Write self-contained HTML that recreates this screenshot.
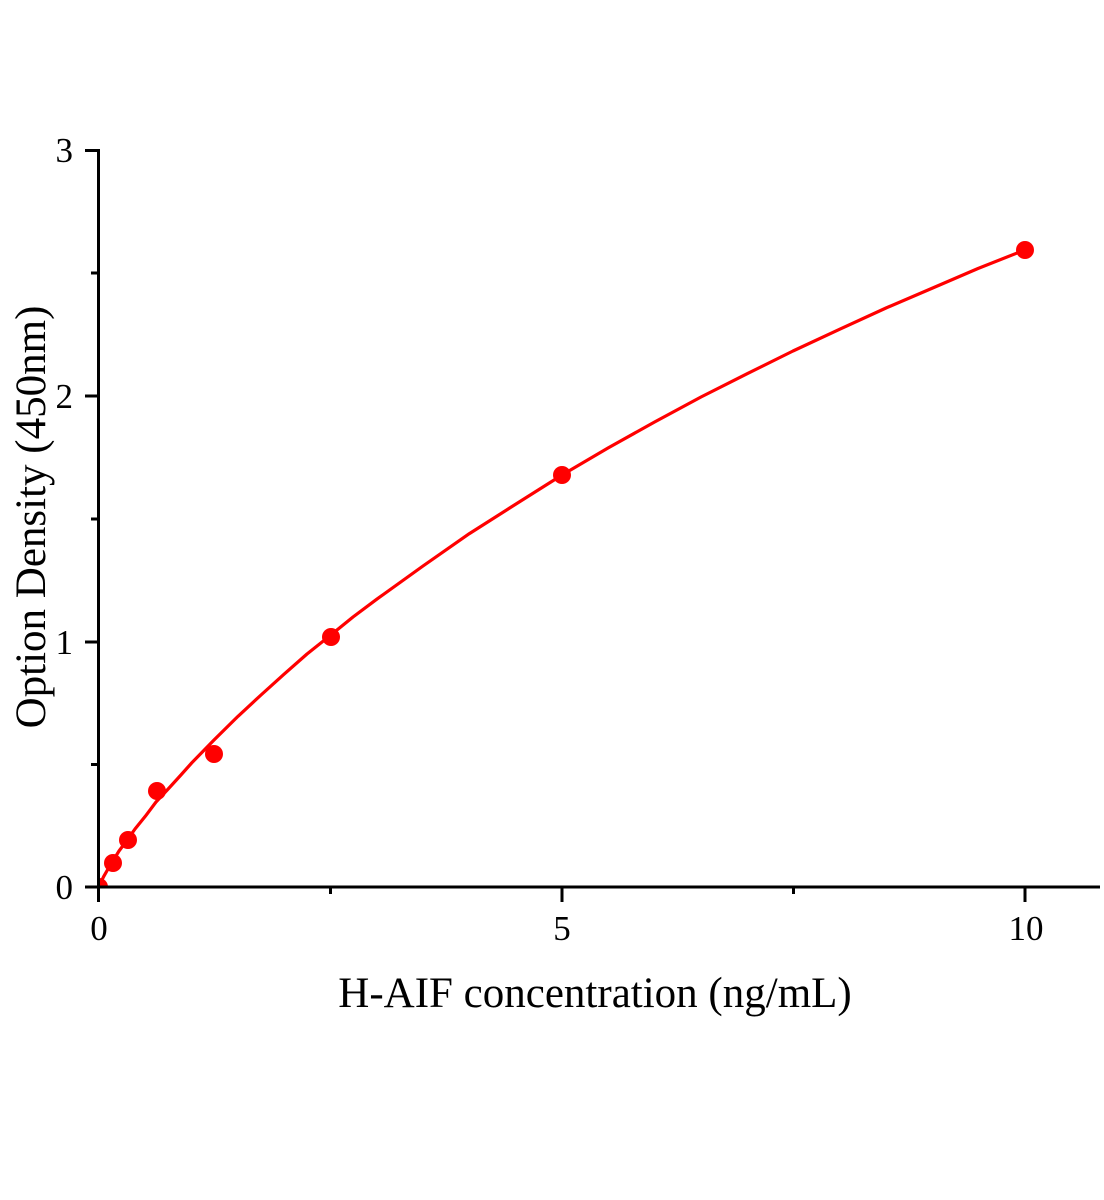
<!DOCTYPE html>
<html>
<head>
<meta charset="utf-8">
<style>
html,body{margin:0;padding:0;background:#fff;}
svg{display:block;}
text{font-family:"Liberation Serif","DejaVu Serif",serif;fill:#000;}
</style>
</head>
<body>
<svg width="1104" height="1200" viewBox="0 0 1104 1200" xmlns="http://www.w3.org/2000/svg">
<defs>
<clipPath id="plot"><rect x="99" y="100" width="1005" height="787"/></clipPath>
</defs>
<rect width="1104" height="1200" fill="#fff"/>
<g clip-path="url(#plot)">
<!-- fitted curve -->
<polyline fill="none" stroke="#ff0000" stroke-width="3.2" stroke-linejoin="round" stroke-linecap="round"
points="99,887 101,882 103.6,876.7 108,869 112.9,861 119,851 126.8,840.6 135,829 145.3,816.3 156,802 168.5,788.6 180,776 191.6,763 214,740 237.9,716.4 261,695 284.2,674.1 307,654 330.5,635.3 353,617 376.8,599.2 423,566 469.4,533.6 516,504 562,475 608,448 654.6,422 701,397 747.2,373.7 793,351 839.8,329.2 886,308 932.4,288.1 978,268.5 1025,249.9"/>
<!-- data points -->
<g fill="#ff0000">
<circle cx="99" cy="887" r="9"/>
<circle cx="113" cy="863" r="9"/>
<circle cx="128" cy="840" r="9"/>
<circle cx="157" cy="791" r="9"/>
<circle cx="214" cy="754" r="9"/>
<circle cx="331" cy="637" r="9"/>
<circle cx="562" cy="475" r="9"/>
<circle cx="1025" cy="250" r="9"/>
</g>
</g>
<!-- axes -->
<g stroke="#000" stroke-width="3" fill="none">
<line x1="98.5" y1="149" x2="98.5" y2="888"/>
<line x1="97" y1="887" x2="1100" y2="887"/>
<!-- y major ticks -->
<line x1="85" y1="150.5" x2="99" y2="150.5"/>
<line x1="85" y1="396" x2="99" y2="396"/>
<line x1="85" y1="642" x2="99" y2="642"/>
<line x1="85" y1="887" x2="99" y2="887"/>
<!-- y minor ticks -->
<line x1="91" y1="273" x2="99" y2="273"/>
<line x1="91" y1="519" x2="99" y2="519"/>
<line x1="91" y1="764.5" x2="99" y2="764.5"/>
<!-- x major ticks -->
<line x1="98.5" y1="887" x2="98.5" y2="902"/>
<line x1="562" y1="887" x2="562" y2="902"/>
<line x1="1025" y1="887" x2="1025" y2="902"/>
<!-- x minor ticks -->
<line x1="330.5" y1="887" x2="330.5" y2="894"/>
<line x1="793.5" y1="887" x2="793.5" y2="894"/>
</g>
<!-- y tick labels -->
<g font-size="35" text-anchor="end">
<text x="73" y="162">3</text>
<text x="73" y="408">2</text>
<text x="73" y="654">1</text>
<text x="73" y="899">0</text>
</g>
<!-- x tick labels -->
<g font-size="35" text-anchor="middle">
<text x="99" y="940">0</text>
<text x="562" y="940">5</text>
<text x="1026" y="940">10</text>
</g>
<!-- axis titles -->
<text x="595" y="1007" font-size="43" text-anchor="middle">H-AIF concentration (ng/mL)</text>
<text transform="translate(45,517) rotate(-90)" font-size="43" text-anchor="middle">Option Density (450nm)</text>
</svg>
</body>
</html>
